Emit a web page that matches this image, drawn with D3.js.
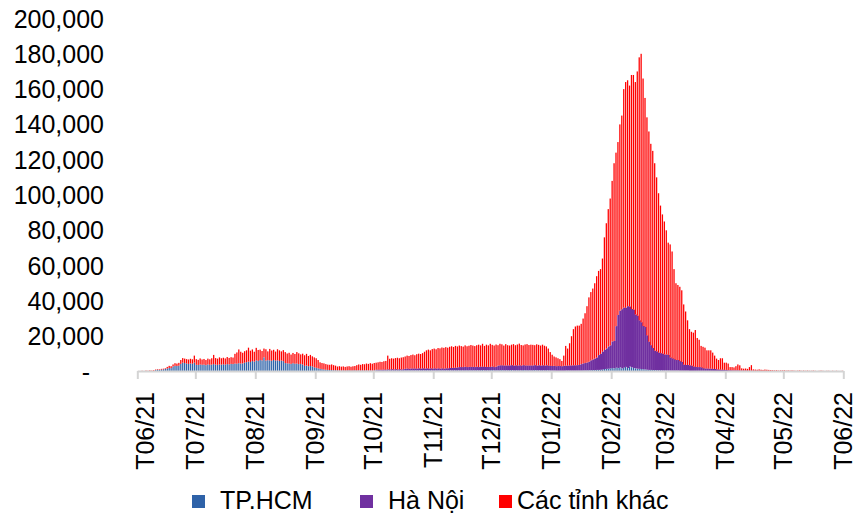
<!DOCTYPE html>
<meta charset="utf-8">
<title>Ca nhiễm mới theo ngày</title>
<style>
body { margin: 0; background: #fff; }
text { font-family: "Liberation Sans", Arial, sans-serif; fill: #000; }
.lbl { font-size: 25px; }
</style>
<svg width="856" height="517"></svg>
<script src="https://d3js.org/d3.v7.min.js"></script>
<script>

// daily new cases, one value per day starting 01/06/2021
var firstDay = "2021-06-01",
    lastTick = "2022-06-01";

var seriesNames = ["TP.HCM", "Hà Nội", "Các tỉnh khác"];

var yTicks = [0, 20000, 40000, 60000, 80000, 100000, 120000, 140000, 160000, 180000, 200000];

var hcm = [
  // T06/21
  100,0,100,100,100,100,200,100,200, 800,1000,900,1100,1200,1400, 1700,2000,1900,
  2800,3200,3100,3300, 4300,5000,4800, 4500,4300,4600,4400, 5000,
  // T07/21
  3800,3700,4000,3800,3900,3600,4000,3800, 3900,4200,3900,
  3800,4000,3900,4100,3900,4200,4000,4300,4200, 4500,4400,4700,4500,4600,
  5000,5300,5600,5400,5900,5600,
  // T08/21
  6300,6000, 6500,6300,8000, 6200,6400,6300,6100,6500,6200,6300,6000,6200,5900,
  4800,4600,4500,4300,4700,4400,4500,4200,4300,4000, 3200,3400,3000,3100,2900, 2400,
  // T09/21
  2100,1800,1500,1300,1100,1000, 900,800,800,700,700,
  600,600,550,600,500,550,600,500,550,600, 500,600,500,600,500,600,500,600,500,
  // T10/21
  600, 600,500,600,500,600,600,700,600,700,600,700,600,700,600,700,
  600,700,600,700,600,700,600,700,600,700, 600,700,600,700,600,
  // T11/21
  700,600,700,600,700,600,700,
  600,700,600,700,600,700,600,700,600,700,600,700,600,700,600,700,
  600,700,800,600,700,600,700,
  // T12/21
  800,600,700,600,700,800,600,700,600,700,800,600,700,600,700,
  600,800,700,600,700,600,700,800,600,700,600,700,600,700, 600,500,
  // T01/22
  500,500,400,400,400,400,400,500,500,500,500,500,500,500,500,500,
  600,600,600,700,700,800,800,900,900,1000,1200,1400,1500,1600,1800,
  // T02/22
  2000,1800, 2200,2000,2400,1800,2200,2600,2000,2800,2400,2000,1800,1600,1500,1400,1300,1200,
  1000,900,900,800,800,700,700,700,600,600,
  // T03/22
  600,600,500,500,500,500,500,400,400,400,400,400,
  300,300,300,300,300,300,300,300, 200,200,200,200,200,200,200,200,200,200,200,
  // T04/22
  200, 100,100,100,100,100,100,100,100,100,100,100,100,100,100,100,100,100,100,100,100,100,100,100,
  100,0,100,0,100,0,
  // T05/22
  100,0,100,0,0,100,0,0,100,0,0,0,100,0,0,0,0,0,0,100, 0,0,0,0,0,0,0,0,0,0,0
];

var hanoi = [
  // T06/21
  0,0,0,0,0,0,0,0,0,0,0,0,0,0,0,0,0,0,0,0,0,0,0,0,0,0,0,0,0,0,
  // T07/21
  0,0,0,0,0,0,0,0,0,0,0,0,0,0,0,0,0,0,0,0,0,0,0,0,0,0,0,0,0,0,0,
  // T08/21
  0,0,0,0,0,0,0,0,0,0,0,0,0,0,0,0,0,0,0,0,0,0,0,0,0,0,0,0,0,0,0,
  // T09/21
  0,0,0,0,0,0,0,0,0,0,0,0,0,0,0,0,0,0,0,0,0,0,0,0,0,0,0,0,0,0,
  // T10/21
  0, 400,500,400,500,500,400,500,500,600,500,600,500,600,500,600,
  900,1000,900,1000,1100,1000,1000,1100,1000,1100,1000,1100,1000,1100,1000,
  // T11/21
  1100,1000,1100,1000,1100,1000,1100,
  1200,1300,1400,1400,1500,1600,1900,1800,1900,2000,1900,1900,2000,1900,1900,2000,
  1900,2000,1900,2000,1900,2000,1900,
  // T12/21
  2000,1900,2000,
  2700,2800,2700,2800,2700,2800,2700,2800,2700,2800,2700,2800,2700,
  2800,2700,2800,2700,2800,2700,2800,2700,2800,2700,2800,2700,2800, 2700,2700,
  // T01/22
  2600,2700,2600,2700,2700,2600,2800,2800,2800,2900,2900,3000,3000,3100,3200,
  3700,4000,4200,4500,4800,5600,6000,6500,7000,8400,9000,10000,10800,11500,12500,13000,
  // T02/22
  15000,15500,
  23500,30000,32000,33500,34000,33500,35000,34000,33000,33000,30500,30000,27500,26500,24500,24000,
  19500,16000,14000,12500,11000,10700,10000,9700,9500,9000,
  // T03/22
  9000,8800,7500,7000,6500,6000,6000,5500,5000,
  3500,3300,3300,3200,3000,2500,2300,2200,2200,2100,1600,1500,1500,1400,1400,1300,1200,1000,900,
  800,800,700,
  // T04/22
  700,600,600,500,500,500,500,400,400,400,400,300,300,300,300,300,300,300,200,200,200,200,200,200,
  200,200,200,100,200,100,
  // T05/22
  200,100,100,100,100,100,100,100,100,100,100,100,100,100,100,100,
  100,100,100,100,100,100,100,100,100,100,100,100,100,100,100
];

var others = [
  // T06/21
  200,200,300,200,400,300,400,400,500, 300,300,300,400,400,400, 900,1200,1100,
  1200,1500,1400,1600, 2200,2600,2500, 2500,2500,2600,2500, 4000,
  // T07/21
  3200,2900,3400,3000,3200,2900,3300,3100, 3600,5200,3700,
  3500,4000,3600,3700,3500,4000,3700,3800,3700, 5500,6400,7800,6700,6000,
  6500,6700,7900,6400,6600,5600,
  // T08/21
  7100,6200, 5900,5300,5000, 6400,5000,6500,5800,5800,5100,6300,6000,5200,6200,
  6200,5600,6100,5300,5800,5500,6500,6100,5400,6100, 6000,6600,5800,6300,5700, 5600,
  // T09/21
  5400,4700,3700,3500,3500,3200, 3000,3000,3200,2900,2600,
  2200,2400,2200,2300,2100,2300,2400,2200,2400,2500,
  3100,3400,3300,3600,3600,3900,3800,4100,3900,
  // T10/21
  4200, 4000,4200,4500,4400,4700,5000,7800,6100,6200,6200,6300,6700,6200,6800,6800,
  7000,7300,7300,7600,7900,7500,8200,8300,8300,8600, 9600,10200,10800,10200,11100,
  // T11/21
  11200,11000,11500,11500,11800,11800,12000,
  11700,12000,12300,11800,12400,11900,12200,11900,11600,12100,11800,12000,12400,12100,11900,12200,
  12700,12100,13000,11900,12600,12200,13100,
  // T12/21
  12300,12200,12600,
  11600,12200,11900,11300,12100,11500,11300,11600,12200,11400,12000,12300,11700,
  11200,11900,12100,11600,11800,11700,11300,12100,11600,11400,11700,11300,10700,
  9700,7800,
  // T01/22
  6400,5300,5000,4400,3900,3000,5800,11200,9700,12600,16600,20500,22000,22400,22300,
  22800,25400,28200,31900,36500,38700,40200,42700,46100,47700,48000,52800,63800,71000,77900,83200,
  // T02/22
  91000,100700,
  98300,98000,105600,109700,123800,127900,128000,125200,132600,133000,131700,138400,149000,152100,140200,129800,
  123500,119100,114100,111700,106200,98600,90300,83600,78900,75400,
  // T03/22
  70400,63600,64000,60500,51000,43500,42500,42100,40600,
  34100,30300,25300,20500,19200,19200,20900,16500,15500,12100,12100,11800,10300,10400,10400,9200,7600,6100,5400,
  6500,6500,4100,
  // T04/22
  4100,3800,1800,1900,1700,2400,3400,3000,1300,1100,1200,1100,2100,3200,800,700,600,800,700,600,800,700,600,500,
  400,400,400,400,300,500,
  // T05/22
  400,400,400,400,500,300,300,400,400,300,400,300,300,300,300,400,
  300,200,300,300,300,200,300,300,200,300,200,300,200,200,300
];

var colors = ["#2e62a8", "#7030a0", "#ff0000"];
var keys = ["hcm", "hanoi", "others"];

var svg = d3.select("svg");

var start = d3.timeParse("%Y-%m-%d")(firstDay),
    end = d3.timeParse("%Y-%m-%d")(lastTick);

var x = d3.scaleTime().domain([start, end]).range([137.3, 843.3]);
var y = d3.scaleLinear().domain([0, 200000]).range([371.5, 18.5]);

var rows = hcm.map(function(v, i) {
  return { date: d3.timeDay.offset(start, i), hcm: v, hanoi: hanoi[i], others: others[i] };
});

var step = x(rows[1].date) - x(rows[0].date);

var stacked = d3.stack().keys(keys)(rows);

// purple gets full width so it reads as a solid block, like in the source
var barW = [step * 0.66, step + 0.25, step * 0.66];

svg.append("g").selectAll("g")
  .data(stacked)
  .enter().append("g")
    .attr("fill", function(d, i) { return colors[i]; })
  .selectAll("rect")
  .data(function(d, i) { return d.map(function(p) { p.k = i; return p; }).filter(function(p) { return p[1] > p[0]; }); })
  .enter().append("rect")
    .attr("x", function(d) { return x(d.data.date) + 0.3; })
    .attr("width", function(d) { return barW[d.k]; })
    .attr("y", function(d) { return y(d[1]); })
    .attr("height", function(d) { return y(d[0]) - y(d[1]); });

// x axis: gray line with month ticks
var months = d3.timeMonth.range(start, d3.timeDay.offset(end, 1));

var xAxis = svg.append("g")
    .attr("transform", "translate(0,371)")
    .call(d3.axisBottom(x).tickValues(months).tickSize(8).tickSizeOuter(0).tickFormat(""));
xAxis.select(".domain").attr("stroke", "#d4d4d4").attr("stroke-width", 2);
xAxis.selectAll(".tick line").attr("stroke", "#d4d4d4").attr("stroke-width", 2);

var fmtMonth = d3.timeFormat("T%m/%y");
svg.append("g").selectAll("text")
  .data(months)
  .enter().append("text")
    .attr("class", "lbl")
    .attr("text-anchor", "end")
    .attr("transform", function(d, i) {
      // the first label sits a little right of its tick in the source
      var cx = x(d) + (i == 0 ? 8 : 0);
      return "translate(" + (cx + 8.5) + ",392) rotate(-90)";
    })
    .text(fmtMonth);

// y labels, no axis line
var fmtNum = d3.format(",");
svg.append("g").selectAll("text")
  .data(yTicks)
  .enter().append("text")
    .attr("class", "lbl")
    .attr("text-anchor", "end")
    .attr("x", function(d) { return d ? 104 : 90; })
    .attr("y", function(d) { return y(d); })
    .attr("dy", "0.36em")
    .text(function(d) { return d ? fmtNum(d) : "-"; });

// legend
var legX = [192, 360, 499],
    legTextX = [220, 388, 517];
var legend = svg.append("g").selectAll("g")
  .data(seriesNames)
  .enter().append("g");
legend.append("rect")
    .attr("x", function(d, i) { return legX[i]; })
    .attr("y", 495).attr("width", 13).attr("height", 13)
    .attr("fill", function(d, i) { return colors[i]; });
legend.append("text")
    .attr("class", "lbl")
    .attr("x", function(d, i) { return legTextX[i]; })
    .attr("y", 509)
    .text(function(d) { return d; });

</script>
